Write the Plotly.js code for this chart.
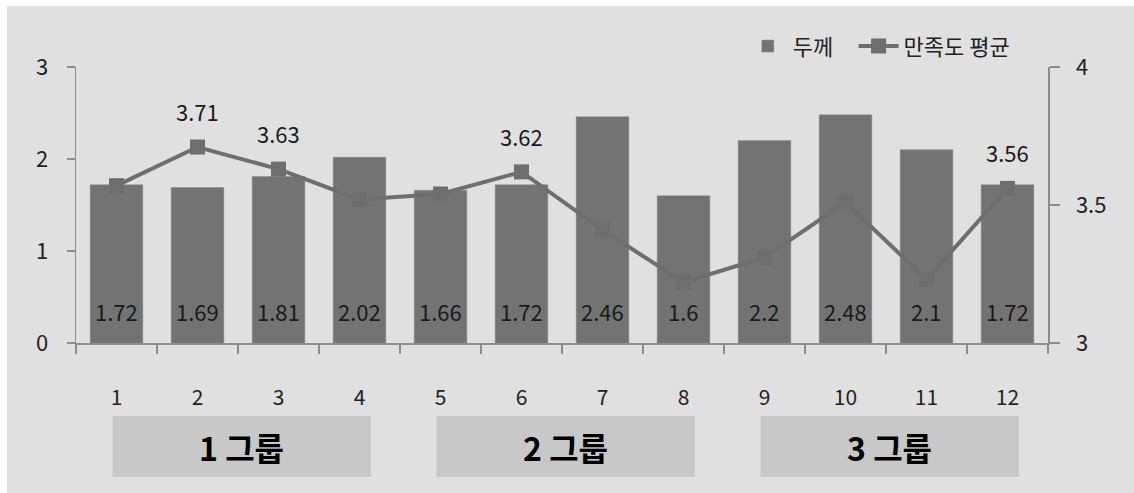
<!DOCTYPE html>
<html>
<head>
<meta charset="utf-8">
<script src="https://cdn.plot.ly/plotly-3.0.1.min.js"></script>
<style>
html,body{margin:0;padding:0;background:#ffffff;}
#chart{width:1134px;height:493px;}
</style>
</head>
<body>
<div id="chart"></div>
<script>
// ---- data ----
const categories = ['1','2','3','4','5','6','7','8','9','10','11','12'];
const thickness = [1.72, 1.69, 1.81, 2.02, 1.66, 1.72, 2.46, 1.6, 2.2, 2.48, 2.1, 1.72];
const satisfaction = [3.57, 3.71, 3.63, 3.52, 3.54, 3.62, 3.41, 3.22, 3.31, 3.51, 3.23, 3.56];
const satisfactionLabels = ['', '3.71', '3.63', '', '', '3.62', '', '', '', '', '', '3.56'];
const groupNames = ['1 그룹', '2 그룹', '3 그룹'];
const groupStart = [0, 4, 8];
const groupEnd = [3, 7, 11];
const seriesNames = ['두께', '만족도 평균'];

const FONT = '"Noto Sans CJK KR", "Noto Sans", sans-serif';
const BAR = '#737373';
const LINE = '#6e6e6e';
const AX = '#8c8c8c';

const traces = [
  {
    type: 'bar', name: seriesNames[0], x: categories, y: thickness,
    marker: {color: BAR, line: {color: '#8a8a8a', width: 0.5}},
    width: 0.65, hoverinfo: 'x+y', legend: 'legend'
  },
  {
    type: 'scatter', mode: 'lines+markers', name: seriesNames[1],
    x: categories, y: satisfaction, yaxis: 'y2',
    line: {color: LINE, width: 4},
    marker: {symbol: 'square', size: 15, color: LINE}, legend: 'legend2'
  }
];

const annotations = [];
categories.forEach((c, i) => {
  // category axis position i corresponds to categories[i]
  annotations.push({x: i, y: 0, xref: 'x', yref: 'y', text: String(thickness[i]),
    showarrow: false, yanchor: 'middle', yshift: 32,
    font: {family: FONT, size: 22, color: '#1a1a1a'}});
  if (satisfactionLabels[i]) {
    annotations.push({x: i, y: satisfaction[i], xref: 'x', yref: 'y2', text: satisfactionLabels[i],
      showarrow: false, yanchor: 'middle', yshift: 36,
      font: {family: FONT, size: 22, color: '#1a1a1a'}});
  }
});

const shapes = [
  {type: 'rect', xref: 'paper', yref: 'paper', x0: -0.071, x1: 1.09, y0: -0.55, y1: 1.221,
   fillcolor: '#e0e0e0', line: {width: 0}, layer: 'below'}
];
groupNames.forEach((g, k) => {
  const x0 = groupStart[k] - 0.05, x1 = groupEnd[k] + 0.14;
  shapes.push({type: 'rect', xref: 'x', yref: 'paper', x0: x0, x1: x1, y0: -0.4855, y1: -0.2645,
    fillcolor: '#c8c8c8', line: {width: 0}, layer: 'below'});
  annotations.push({xref: 'x', yref: 'paper', x: (x0 + x1) / 2, y: -0.375, text: '<b>' + g + '</b>',
    showarrow: false, xanchor: 'center', yanchor: 'middle',
    font: {family: FONT, size: 32, color: '#000000'}});
});

const legendBase = {orientation: 'h', y: 1.075, xanchor: 'left', yanchor: 'middle',
  bgcolor: 'rgba(0,0,0,0)', font: {family: FONT, size: 22, color: '#222222'}, itemwidth: 40};

const layout = {
  width: 1134, height: 493,
  margin: {l: 76, r: 86, t: 67, b: 150},
  paper_bgcolor: '#ffffff', plot_bgcolor: 'rgba(0,0,0,0)',
  font: {family: FONT, size: 22, color: '#222222'},
  showlegend: true,
  legend: Object.assign({}, legendBase, {x: 0.686}),
  legend2: Object.assign({}, legendBase, {x: 0.800}),
  bargap: 0.35,
  xaxis: {type: 'category', range: [-0.5, 11.5], tickson: 'boundaries', ticks: 'outside',
    ticklen: 9, tickcolor: AX, tickwidth: 1.5, showline: true, linecolor: AX, linewidth: 1.5,
    showgrid: false, zeroline: false, ticklabelstandoff: 35,
    tickfont: {family: FONT, size: 21, color: '#222222'}, fixedrange: true},
  yaxis: {range: [0, 3], dtick: 1, ticks: 'outside', ticklen: 8, tickcolor: AX, tickwidth: 1.5,
    showline: true, linecolor: AX, linewidth: 1.5, showgrid: false, zeroline: false,
    ticklabelstandoff: 14, tickfont: {family: FONT, size: 22, color: '#222222'}},
  yaxis2: {range: [3, 4], dtick: 0.5, overlaying: 'y', side: 'right', ticks: 'outside',
    ticklen: 10, tickcolor: AX, tickwidth: 1.5, showline: true, linecolor: AX, linewidth: 1.5,
    showgrid: false, zeroline: false, ticklabelstandoff: 12,
    tickfont: {family: FONT, size: 22, color: '#222222'}},
  shapes: shapes,
  annotations: annotations
};

Plotly.newPlot('chart', traces, layout, {displayModeBar: false, staticPlot: true});
</script>
</body>
</html>
